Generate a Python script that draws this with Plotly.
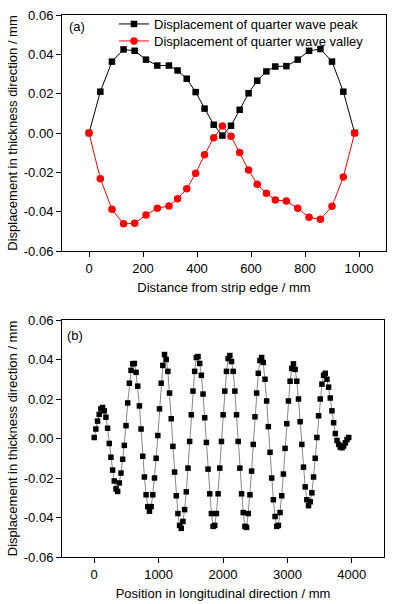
import plotly.graph_objects as go

# ---------------- (a) transverse distribution ----------------
dist_mm = [0, 42, 85, 128, 169, 211, 253, 296, 328, 362, 395, 428, 462, 494,
           526, 558, 591, 623, 657, 690, 731, 773, 815, 857, 900, 942, 984]
peak_disp = [0.0, 0.0210, 0.0363, 0.0425, 0.0418, 0.0373, 0.0343, 0.0343, 0.0318,
             0.0276, 0.0208, 0.0124, 0.0042, -0.0013, 0.0037, 0.0118, 0.0202,
             0.0266, 0.0313, 0.0338, 0.0340, 0.0373, 0.0418, 0.0427, 0.0363,
             0.0210, 0.0]
valley_disp = [0.0, -0.0232, -0.0388, -0.0462, -0.0459, -0.0417, -0.0382, -0.0371,
               -0.0334, -0.0284, -0.0205, -0.0111, -0.0024, 0.0035, -0.0017,
               -0.0099, -0.0188, -0.0260, -0.0306, -0.0341, -0.0346, -0.0383,
               -0.0429, -0.0439, -0.0373, -0.0224, 0.0]

# ---------------- (b) longitudinal distribution ----------------
long_pos = [0, 26, 52, 78, 104, 130, 156, 182, 208, 234,
            260, 286, 312, 338, 364, 390, 416, 442, 468, 494,
            520, 546, 572, 598, 624, 650, 676, 702, 728, 754,
            780, 806, 832, 858, 884, 910, 936, 962, 988, 1014,
            1040, 1066, 1092, 1118, 1144, 1170, 1196, 1222, 1248, 1274,
            1300, 1326, 1352, 1378, 1404, 1430, 1456, 1482, 1508, 1534,
            1560, 1586, 1612, 1638, 1664, 1690, 1716, 1742, 1768, 1794,
            1820, 1846, 1872, 1898, 1924, 1950, 1976, 2002, 2028, 2054,
            2080, 2106, 2132, 2158, 2184, 2210, 2236, 2262, 2288, 2314,
            2340, 2366, 2392, 2418, 2444, 2470, 2496, 2522, 2548, 2574,
            2600, 2626, 2652, 2678, 2704, 2730, 2756, 2782, 2808, 2834,
            2860, 2886, 2912, 2938, 2964, 2990, 3016, 3042, 3068, 3094,
            3120, 3146, 3172, 3198, 3224, 3250, 3276, 3302, 3328, 3354,
            3380, 3406, 3432, 3458, 3484, 3510, 3536, 3562, 3588, 3614,
            3640, 3666, 3692, 3718, 3744, 3770, 3796, 3822, 3848, 3874,
            3900, 3926, 3952]
long_disp = [0.0005, 0.0048, 0.0088, 0.0122, 0.0150, 0.0157, 0.0140, 0.0108, 0.0052, -0.0025,
             -0.0095, -0.0160, -0.0215, -0.0255, -0.0268, -0.0225, -0.0175, -0.0105, -0.0035, 0.0065,
             0.0180, 0.0280, 0.0345, 0.0378, 0.0380, 0.0335, 0.0265, 0.0165, 0.0048, -0.0090,
             -0.0195, -0.0285, -0.0345, -0.0368, -0.0345, -0.0285, -0.0200, -0.0100, 0.0015, 0.0150,
             0.0280, 0.0370, 0.0425, 0.0400, 0.0340, 0.0230, 0.0100, -0.0040, -0.0170, -0.0290,
             -0.0380, -0.0440, -0.0455, -0.0420, -0.0360, -0.0270, -0.0150, -0.0015, 0.0120, 0.0240,
             0.0340, 0.0410, 0.0415, 0.0380, 0.0320, 0.0225, 0.0105, -0.0020, -0.0155, -0.0280,
             -0.0380, -0.0445, -0.0440, -0.0380, -0.0280, -0.0150, -0.0015, 0.0120, 0.0240, 0.0340,
             0.0405, 0.0420, 0.0390, 0.0340, 0.0240, 0.0120, -0.0015, -0.0150, -0.0280, -0.0375,
             -0.0445, -0.0450, -0.0380, -0.0285, -0.0165, -0.0030, 0.0110, 0.0230, 0.0330, 0.0395,
             0.0410, 0.0385, 0.0300, 0.0190, 0.0060, -0.0070, -0.0200, -0.0310, -0.0395, -0.0445,
             -0.0440, -0.0375, -0.0290, -0.0180, -0.0050, 0.0075, 0.0190, 0.0290, 0.0355, 0.0378,
             0.0350, 0.0290, 0.0200, 0.0085, -0.0030, -0.0145, -0.0245, -0.0310, -0.0340, -0.0320,
             -0.0275, -0.0195, -0.0100, 0.0005, 0.0115, 0.0200, 0.0275, 0.0320, 0.0330, 0.0300,
             0.0260, 0.0205, 0.0140, 0.0080, 0.0025, -0.0010, -0.0030, -0.0044, -0.0047, -0.0038,
             -0.0022, -0.0005, 0.0005]

y_ticks = [-0.06, -0.04, -0.02, 0.0, 0.02, 0.04, 0.06]
y_ticklabels = ["-0.06", "-0.04", "-0.02", "0.00", "0.02", "0.04", "0.06"]
xa_ticks = [0, 200, 400, 600, 800, 1000]
xb_ticks = [0, 1000, 2000, 3000, 4000]

FONT = "Arial, Liberation Sans, sans-serif"
W, H = 393, 604

fig = go.Figure()
fig.add_trace(go.Scatter(
    x=dist_mm, y=peak_disp, mode="lines+markers",
    name="Displacement of quarter wave peak", legend="legend",
    line=dict(color="black", width=1),
    marker=dict(symbol="square", size=6.5, color="black"),
    xaxis="x", yaxis="y"))
fig.add_trace(go.Scatter(
    x=dist_mm, y=valley_disp, mode="lines+markers",
    name="Displacement of quarter wave valley", legend="legend2",
    line=dict(color="#ff0000", width=1),
    marker=dict(symbol="circle", size=7.5, color="#ff0000"),
    xaxis="x", yaxis="y"))
fig.add_trace(go.Scatter(
    x=long_pos, y=long_disp, mode="lines+markers", showlegend=False,
    line=dict(color="#888888", width=1),
    marker=dict(symbol="square", size=5.5, color="black"),
    xaxis="x2", yaxis="y2"))

axis_common = dict(showline=True, mirror=True, linecolor="black", linewidth=1,
                   ticks="outside", ticklen=5, tickwidth=1, tickcolor="black",
                   showgrid=False, zeroline=False, automargin=False,
                   tickfont=dict(family=FONT, size=13, color="black"))

legend_common = dict(xanchor="left", yanchor="middle",
                     bgcolor="rgba(0,0,0,0)", borderwidth=0,
                     font=dict(family=FONT, size=13, color="black"),
                     itemwidth=30)

fig.update_layout(
    template="none",
    width=W, height=H,
    margin=dict(l=0, r=0, t=0, b=0),
    paper_bgcolor="white", plot_bgcolor="white",
    font=dict(family=FONT, size=13, color="black"),
    xaxis=dict(domain=[62 / W, 386 / W], range=[-100, 1100], anchor="y",
               tickvals=xa_ticks,
               title=dict(text="Distance from strip edge / mm", standoff=8,
                          font=dict(family=FONT, size=13)),
               **axis_common),
    yaxis=dict(domain=[1 - 251 / H, 1 - 15 / H], range=[-0.06, 0.06], anchor="x",
               tickvals=y_ticks, ticktext=y_ticklabels,
               title=dict(text="Displacement in thickness direction / mm", standoff=3,
                          font=dict(family=FONT, size=13)),
               **axis_common),
    xaxis2=dict(domain=[62 / W, 384 / W], range=[-500, 4500], anchor="y2",
                tickvals=xb_ticks,
                title=dict(text="Position in longitudinal direction / mm", standoff=8,
                           font=dict(family=FONT, size=13)),
                **axis_common),
    yaxis2=dict(domain=[1 - 557 / H, 1 - 320 / H], range=[-0.06, 0.06], anchor="x2",
                tickvals=y_ticks, ticktext=y_ticklabels,
                title=dict(text="Displacement in thickness direction / mm", standoff=3,
                           font=dict(family=FONT, size=13)),
                **axis_common),
    legend=dict(x=114 / W, y=1 - 24 / H, **legend_common),
    legend2=dict(x=114 / W, y=1 - 41 / H, **legend_common),
    annotations=[
        dict(text="(a)", x=67 / W, y=1 - 27 / H, xref="paper", yref="paper",
             xanchor="left", yanchor="middle", showarrow=False,
             font=dict(family=FONT, size=13, color="black")),
        dict(text="(b)", x=65 / W, y=1 - 335 / H, xref="paper", yref="paper",
             xanchor="left", yanchor="middle", showarrow=False,
             font=dict(family=FONT, size=13, color="black")),
    ],
)

fig.write_html("out.html",
               config={"displayModeBar": False},
               post_script="document.body.style.margin='0';document.body.style.padding='0';")
